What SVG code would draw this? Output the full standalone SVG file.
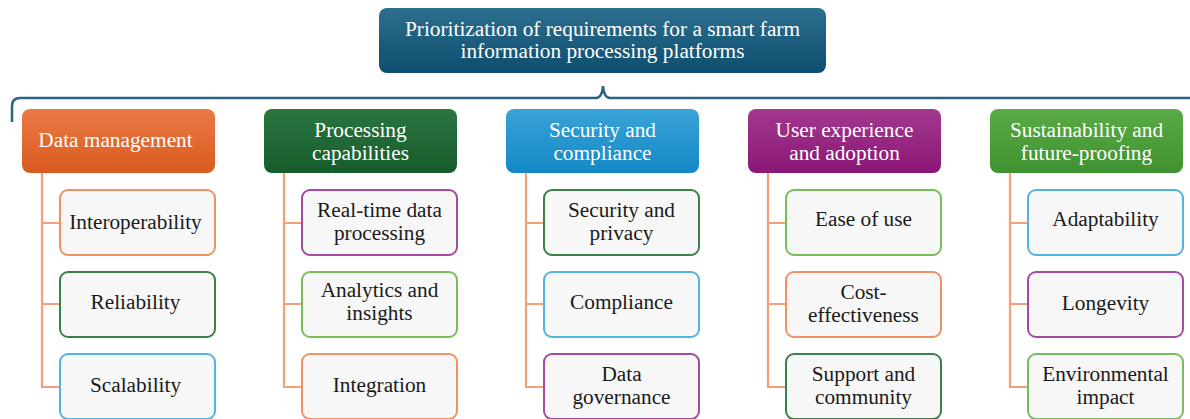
<svg xmlns="http://www.w3.org/2000/svg" width="1190" height="419" viewBox="0 0 1190 419">
<defs>
<linearGradient id="gTitle" x1="0" y1="0" x2="0" y2="1"><stop offset="0" stop-color="#2d6f8f"/><stop offset="1" stop-color="#0d4d6d"/></linearGradient>
<linearGradient id="gOr" x1="0" y1="0" x2="0" y2="1"><stop offset="0" stop-color="#ea7a45"/><stop offset="1" stop-color="#d95a1f"/></linearGradient>
<linearGradient id="gDg" x1="0" y1="0" x2="0" y2="1"><stop offset="0" stop-color="#2a7540"/><stop offset="1" stop-color="#175c2b"/></linearGradient>
<linearGradient id="gBl" x1="0" y1="0" x2="0" y2="1"><stop offset="0" stop-color="#3aa3d8"/><stop offset="1" stop-color="#1288c6"/></linearGradient>
<linearGradient id="gPu" x1="0" y1="0" x2="0" y2="1"><stop offset="0" stop-color="#a3398f"/><stop offset="1" stop-color="#8a1676"/></linearGradient>
<linearGradient id="gLg" x1="0" y1="0" x2="0" y2="1"><stop offset="0" stop-color="#5aab48"/><stop offset="1" stop-color="#3f922f"/></linearGradient>
</defs>
<style>
text{font-family:'Liberation Serif','Times New Roman',serif;font-size:21.3px;text-anchor:middle}
.w{fill:#ffffff}
.k{fill:#1a1a1a}
.child{fill:#f7f7f7;stroke-width:2}
.c-or{stroke:#ee9266}
.c-dg{stroke:#3b7f4c}
.c-bl{stroke:#55b3e2}
.c-pu{stroke:#a34aa2}
.c-lg{stroke:#78bd5c}
.conn{fill:none;stroke:#f2a077;stroke-width:2.2}
.brace{fill:none;stroke:#2b6386;stroke-width:2.5}
</style>
<g id="connectors">
<path class="brace" d="M12 122 L12 106 Q12 98 20 98 L596 98 Q602 98 603 86 Q604 98 610 98 L1190 98"/>
<path class="conn" d="M42 173 V387 H60 M42 223 H60 M42 304 H60"/>
<path class="conn" d="M284 173 V387 H302 M284 223 H302 M284 304 H302"/>
<path class="conn" d="M526 173 V387 H544 M526 223 H544 M526 304 H544"/>
<path class="conn" d="M768 173 V387 H786 M768 223 H786 M768 304 H786"/>
<path class="conn" d="M1010 173 V387 H1028 M1010 223 H1028 M1010 304 H1028"/>
</g>
<g id="title">
<rect x="379" y="8" width="447" height="65" rx="8" fill="url(#gTitle)"/>
<text class="w" x="602.5" y="36">Prioritization of requirements for a smart farm</text>
<text class="w" x="602.5" y="58">information processing platforms</text>
</g>
<g id="cat-data-management">
<rect x="22" y="109" width="193" height="64" rx="8" fill="url(#gOr)"/>
<text class="w" x="115.5" y="147">Data management</text>
</g>
<g id="cat-processing">
<rect x="264" y="109" width="193" height="64" rx="8" fill="url(#gDg)"/>
<text class="w" x="360.5" y="137">Processing</text>
<text class="w" x="360.5" y="160">capabilities</text>
</g>
<g id="cat-security">
<rect x="506" y="109" width="193" height="64" rx="8" fill="url(#gBl)"/>
<text class="w" x="602.5" y="137">Security and</text>
<text class="w" x="602.5" y="160">compliance</text>
</g>
<g id="cat-user">
<rect x="748" y="109" width="193" height="64" rx="8" fill="url(#gPu)"/>
<text class="w" x="844.5" y="137">User experience</text>
<text class="w" x="844.5" y="160">and adoption</text>
</g>
<g id="cat-sustainability">
<rect x="990" y="109" width="193" height="64" rx="8" fill="url(#gLg)"/>
<text class="w" x="1086.5" y="137">Sustainability and</text>
<text class="w" x="1086.5" y="160">future-proofing</text>
</g>
<g id="n-interoperability"><rect class="child c-or" x="60" y="190" width="155" height="65" rx="8"/><text class="k" x="135.5" y="229">Interoperability</text></g>
<g id="n-reliability"><rect class="child c-dg" x="60" y="272" width="155" height="65" rx="8"/><text class="k" x="135.5" y="309">Reliability</text></g>
<g id="n-scalability"><rect class="child c-bl" x="60" y="354" width="155" height="65" rx="8"/><text class="k" x="135.5" y="392">Scalability</text></g>
<g id="n-realtime"><rect class="child c-pu" x="302" y="190" width="155" height="65" rx="8"/><text class="k" x="379.5" y="217">Real-time data</text><text class="k" x="379.5" y="240">processing</text></g>
<g id="n-analytics"><rect class="child c-lg" x="302" y="272" width="155" height="65" rx="8"/><text class="k" x="379.5" y="297">Analytics and</text><text class="k" x="379.5" y="320">insights</text></g>
<g id="n-integration"><rect class="child c-or" x="302" y="354" width="155" height="65" rx="8"/><text class="k" x="379.5" y="392">Integration</text></g>
<g id="n-secpriv"><rect class="child c-dg" x="544" y="190" width="155" height="65" rx="8"/><text class="k" x="621.5" y="217">Security and</text><text class="k" x="621.5" y="240">privacy</text></g>
<g id="n-compliance"><rect class="child c-bl" x="544" y="272" width="155" height="65" rx="8"/><text class="k" x="621.5" y="309">Compliance</text></g>
<g id="n-governance"><rect class="child c-pu" x="544" y="354" width="155" height="65" rx="8"/><text class="k" x="621.5" y="381">Data</text><text class="k" x="621.5" y="404">governance</text></g>
<g id="n-ease"><rect class="child c-lg" x="786" y="190" width="155" height="65" rx="8"/><text class="k" x="863.5" y="226">Ease of use</text></g>
<g id="n-cost"><rect class="child c-or" x="786" y="272" width="155" height="65" rx="8"/><text class="k" x="863.5" y="299">Cost-</text><text class="k" x="863.5" y="322">effectiveness</text></g>
<g id="n-support"><rect class="child c-dg" x="786" y="354" width="155" height="65" rx="8"/><text class="k" x="863.5" y="381">Support and</text><text class="k" x="863.5" y="404">community</text></g>
<g id="n-adaptability"><rect class="child c-bl" x="1028" y="190" width="155" height="65" rx="8"/><text class="k" x="1105.5" y="226">Adaptability</text></g>
<g id="n-longevity"><rect class="child c-pu" x="1028" y="272" width="155" height="65" rx="8"/><text class="k" x="1105.5" y="310">Longevity</text></g>
<g id="n-environmental"><rect class="child c-lg" x="1028" y="354" width="155" height="65" rx="8"/><text class="k" x="1105.5" y="381">Environmental</text><text class="k" x="1105.5" y="404">impact</text></g>
</svg>
